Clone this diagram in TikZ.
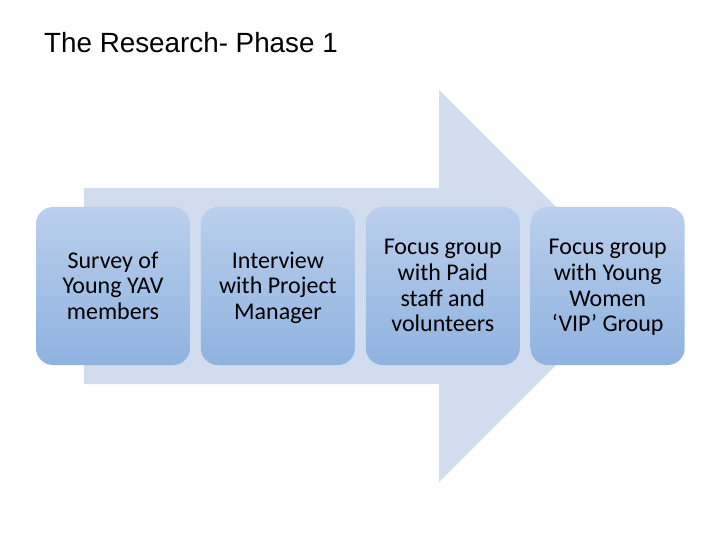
\documentclass[tikz,border=0pt]{standalone}
\usepackage{fontspec}
\setmainfont{Carlito}
\newfontfamily\titlefont{Liberation Sans}
\usepackage{xcolor}
\usetikzlibrary{positioning}
\definecolor{arrowblue}{RGB}{209,220,239}
\definecolor{boxtop}{RGB}{186,207,236}
\definecolor{boxbottom}{RGB}{143,178,224}

\begin{document}
\begin{tikzpicture}[x=1pt, y=-1pt,
    stepbox/.style={rounded corners=17pt, top color=boxtop, bottom color=boxbottom,
                    draw=none, align=center, inner sep=0pt, text depth=1pt,
                    minimum width=154pt, minimum height=158pt,
                    font=\fontsize{24}{25.7}\selectfont},
    heading/.style={anchor=base west, inner sep=0pt,
                    font=\titlefont\fontsize{27.8}{32}\selectfont}]

    \useasboundingbox (0,0) rectangle (720,540);

    \node[heading] (title) at (44,53) {The Research- Phase 1};

    % big arrow behind the steps
    \fill[arrowblue] (84,188) -- (439,188) -- (439,90) -- (635,286)
        -- (439,482) -- (439,384) -- (84,384) -- cycle;

    \node[stepbox] (survey) at (113,286) {Survey of\\Young YAV\\members};
    \node[stepbox, right=10.5pt of survey] (interview) {Interview\\with Project\\Manager};
    \node[stepbox, right=10.5pt of interview] (staff) {Focus group\\with Paid\\staff and\\volunteers};
    \node[stepbox, right=10.5pt of staff] (women) {Focus group\\with Young\\Women\\‘VIP’ Group};
\end{tikzpicture}
\end{document}
